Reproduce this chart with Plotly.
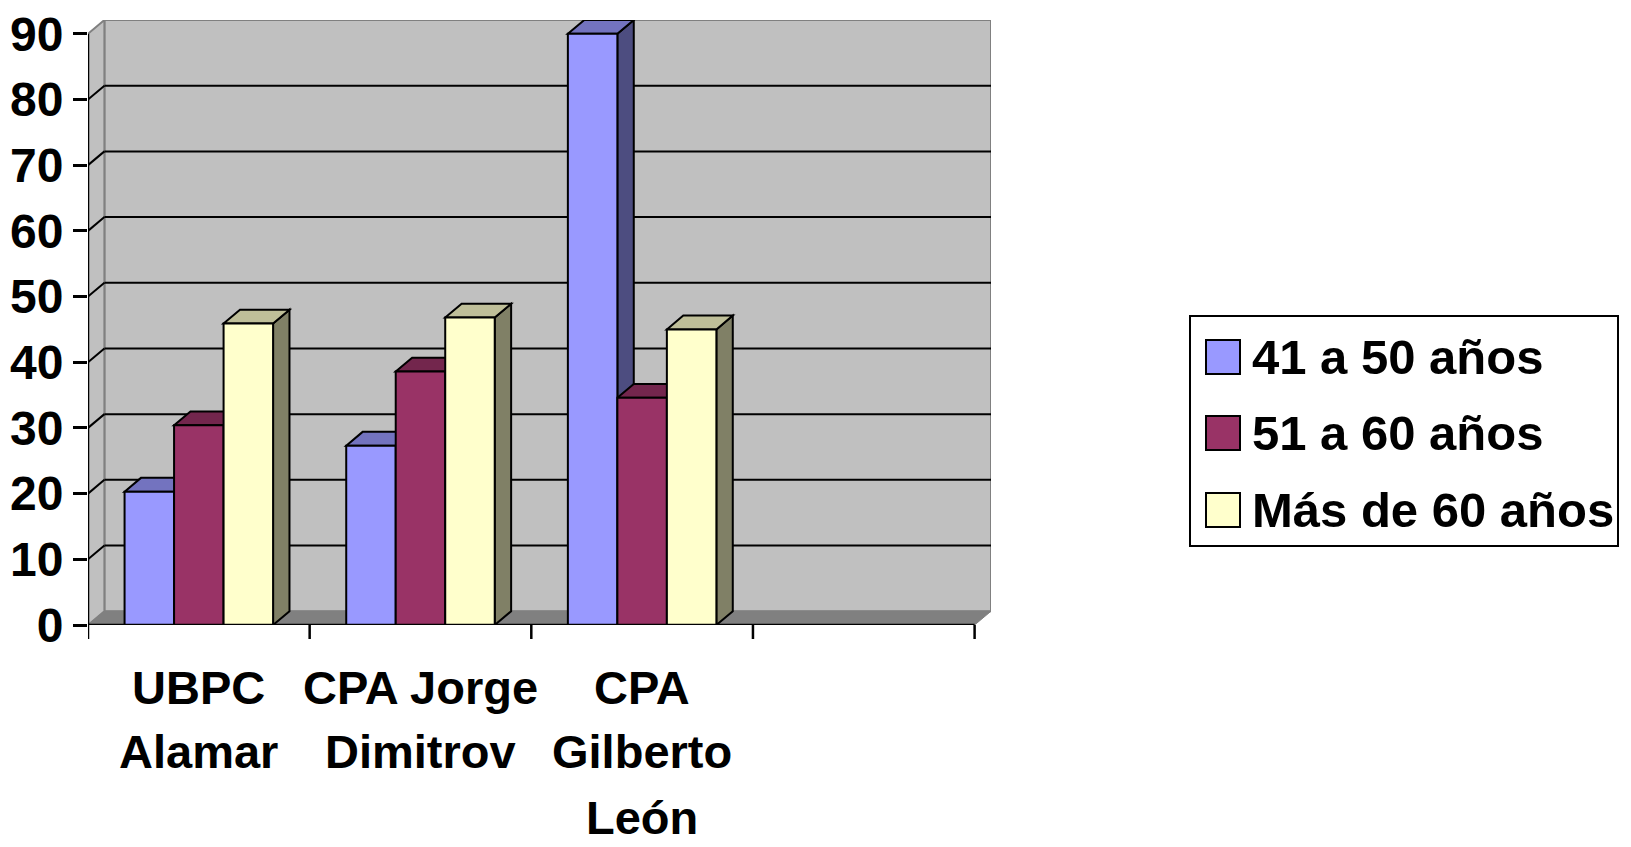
import plotly.graph_objects as go

# ---------------- data ----------------
category_lines = [["UBPC", "Alamar"], ["CPA Jorge", "Dimitrov"], ["CPA", "Gilberto", "León"], []]
series_names = ["41 a 50 años", "51 a 60 años", "Más de 60 años"]
s_41_50 = [20.3, 27.3, 90]
s_51_60 = [30.4, 38.6, 34.6]
s_60_plus = [45.9, 46.8, 45.0]
y_ticks = [0, 10, 20, 30, 40, 50, 60, 70, 80, 90]

# ---------------- style ----------------
front_colors = ["#9999FF", "#993366", "#FFFFCC"]
top_colors = ["#7373BF", "#73264D", "#BFBF99"]
side_colors = ["#4D4D80", "#4D1A33", "#808066"]
WALL = "#C0C0C0"
FLOOR = "#808080"
EDGE = "#808080"
FONT = "Liberation Sans, Arial, sans-serif"

W, H = 1631, 847
L_PX, R_PX, T_PX, B_PX = 88, 991, 20, 625
DX = 0.074        # depth offset in x units
DY = 2.1          # depth offset in y units
BARGAP = 0.33
YMAX = 90
X0, X1 = -0.5, 3.5
LABEL_LINE_Y = [687, 751, 817]   # pixel centres of category label lines

series = [s_41_50, s_51_60, s_60_plus]
ncat = len(category_lines)
nser = len(series)
bw = (1 - BARGAP) / nser


def px_to_paper_x(px):
    return (px - L_PX) / (R_PX - L_PX)


def px_to_paper_y(py):
    return (B_PX - py) / (B_PX - T_PX)


def poly(pts):
    return "M " + " L ".join(f"{x},{y}" for x, y in pts) + " Z"


shapes = []
# back wall
shapes.append(dict(type="rect", xref="x", yref="y", layer="below",
                   x0=X0 + DX, x1=X1 + DX, y0=DY, y1=YMAX + DY,
                   fillcolor=WALL, line=dict(color=EDGE, width=2)))
# left wall
shapes.append(dict(type="path", xref="x", yref="y", layer="below",
                   path=poly([(X0, 0), (X0 + DX, DY), (X0 + DX, YMAX + DY), (X0, YMAX)]),
                   fillcolor=WALL, line=dict(color=EDGE, width=2)))
# floor
shapes.append(dict(type="path", xref="x", yref="y", layer="below",
                   path=poly([(X0, 0), (X1, 0), (X1 + DX, DY), (X0 + DX, DY)]),
                   fillcolor=FLOOR, line=dict(color=EDGE, width=1)))
# gridlines on walls
for v in y_ticks[1:-1]:
    shapes.append(dict(type="line", xref="x", yref="y", layer="below",
                       x0=X0 + DX, x1=X1 + DX, y0=v + DY, y1=v + DY,
                       line=dict(color="black", width=2)))
    shapes.append(dict(type="line", xref="x", yref="y", layer="below",
                       x0=X0, x1=X0 + DX, y0=v, y1=v + DY,
                       line=dict(color="black", width=2)))

# 3D side and top faces of bars (computed from data)
for c in range(len(s_41_50)):
    for i in range(nser):
        v = series[i][c]
        bx0 = c - (1 - BARGAP) / 2 + i * bw
        bx1 = bx0 + bw
        shapes.append(dict(type="path", xref="x", yref="y", layer="below",
                           path=poly([(bx1, 0), (bx1 + DX, DY), (bx1 + DX, v + DY), (bx1, v)]),
                           fillcolor=side_colors[i], line=dict(color="black", width=2)))
        shapes.append(dict(type="path", xref="x", yref="y", layer="below",
                           path=poly([(bx0, v), (bx0 + DX, v + DY), (bx1 + DX, v + DY), (bx1, v)]),
                           fillcolor=top_colors[i], line=dict(color="black", width=2)))

# axis lines (front)
shapes.append(dict(type="line", xref="x", yref="y", layer="above",
                   x0=X0, x1=X1, y0=0, y1=0, line=dict(color="black", width=2.5)))
shapes.append(dict(type="line", xref="x", yref="y", layer="above",
                   x0=X0, x1=X0, y0=0, y1=YMAX, line=dict(color="black", width=2.5)))
# x tick marks at category boundaries
for k in range(ncat + 1):
    xb = X0 + k
    shapes.append(dict(type="line", xref="x", yref="paper", layer="above",
                       x0=xb, x1=xb, y0=0, y1=-14 / (B_PX - T_PX),
                       line=dict(color="black", width=2.5)))

annotations = []
# category labels
for c, lines in enumerate(category_lines):
    for j, txt in enumerate(lines):
        annotations.append(dict(xref="x", yref="paper", x=c, y=px_to_paper_y(LABEL_LINE_Y[j]),
                                text=txt, showarrow=False, xanchor="center", yanchor="middle",
                                font=dict(family=FONT, size=47, color="black", weight="bold")))

# manual legend
lg_left, lg_right, lg_top, lg_bot = 1190, 1618, 316, 546
row_centers = [357, 433, 510]
shapes.append(dict(type="rect", xref="paper", yref="paper",
                   x0=px_to_paper_x(lg_left), x1=px_to_paper_x(lg_right),
                   y0=px_to_paper_y(lg_bot), y1=px_to_paper_y(lg_top),
                   fillcolor="white", line=dict(color="black", width=2)))
for i, name in enumerate(series_names):
    cy = row_centers[i]
    shapes.append(dict(type="rect", xref="paper", yref="paper",
                       x0=px_to_paper_x(1206), x1=px_to_paper_x(1240),
                       y0=px_to_paper_y(cy + 17), y1=px_to_paper_y(cy - 17),
                       fillcolor=front_colors[i], line=dict(color="black", width=2)))
    annotations.append(dict(xref="paper", yref="paper", x=px_to_paper_x(1250),
                            y=px_to_paper_y(cy), text=name, showarrow=False,
                            xanchor="left", yanchor="middle",
                            font=dict(family=FONT, size=49, color="black", weight="bold")))

fig = go.Figure()
for i in range(nser):
    fig.add_trace(go.Bar(x=list(range(len(series[i]))), y=series[i], name=series_names[i],
                         marker=dict(color=front_colors[i], line=dict(color="black", width=2)),
                         showlegend=False))

fig.update_layout(
    width=W, height=H,
    margin=dict(l=L_PX, r=W - R_PX, t=T_PX, b=H - B_PX, pad=0),
    paper_bgcolor="white", plot_bgcolor="white",
    barmode="group", bargap=BARGAP, bargroupgap=0,
    shapes=shapes, annotations=annotations, showlegend=False,
    xaxis=dict(range=[X0, X1 + DX], showticklabels=False, ticks="", showgrid=False,
               zeroline=False, showline=False, automargin=False),
    yaxis=dict(range=[0, YMAX + DY], tickvals=y_ticks, ticks="outside", ticklen=14,
               tickwidth=2.5, tickcolor="black", showgrid=False, zeroline=False,
               showline=False, automargin=False,
               tickfont=dict(family=FONT, size=48, color="black", weight="bold")),
)

fig.write_html("out.html")
